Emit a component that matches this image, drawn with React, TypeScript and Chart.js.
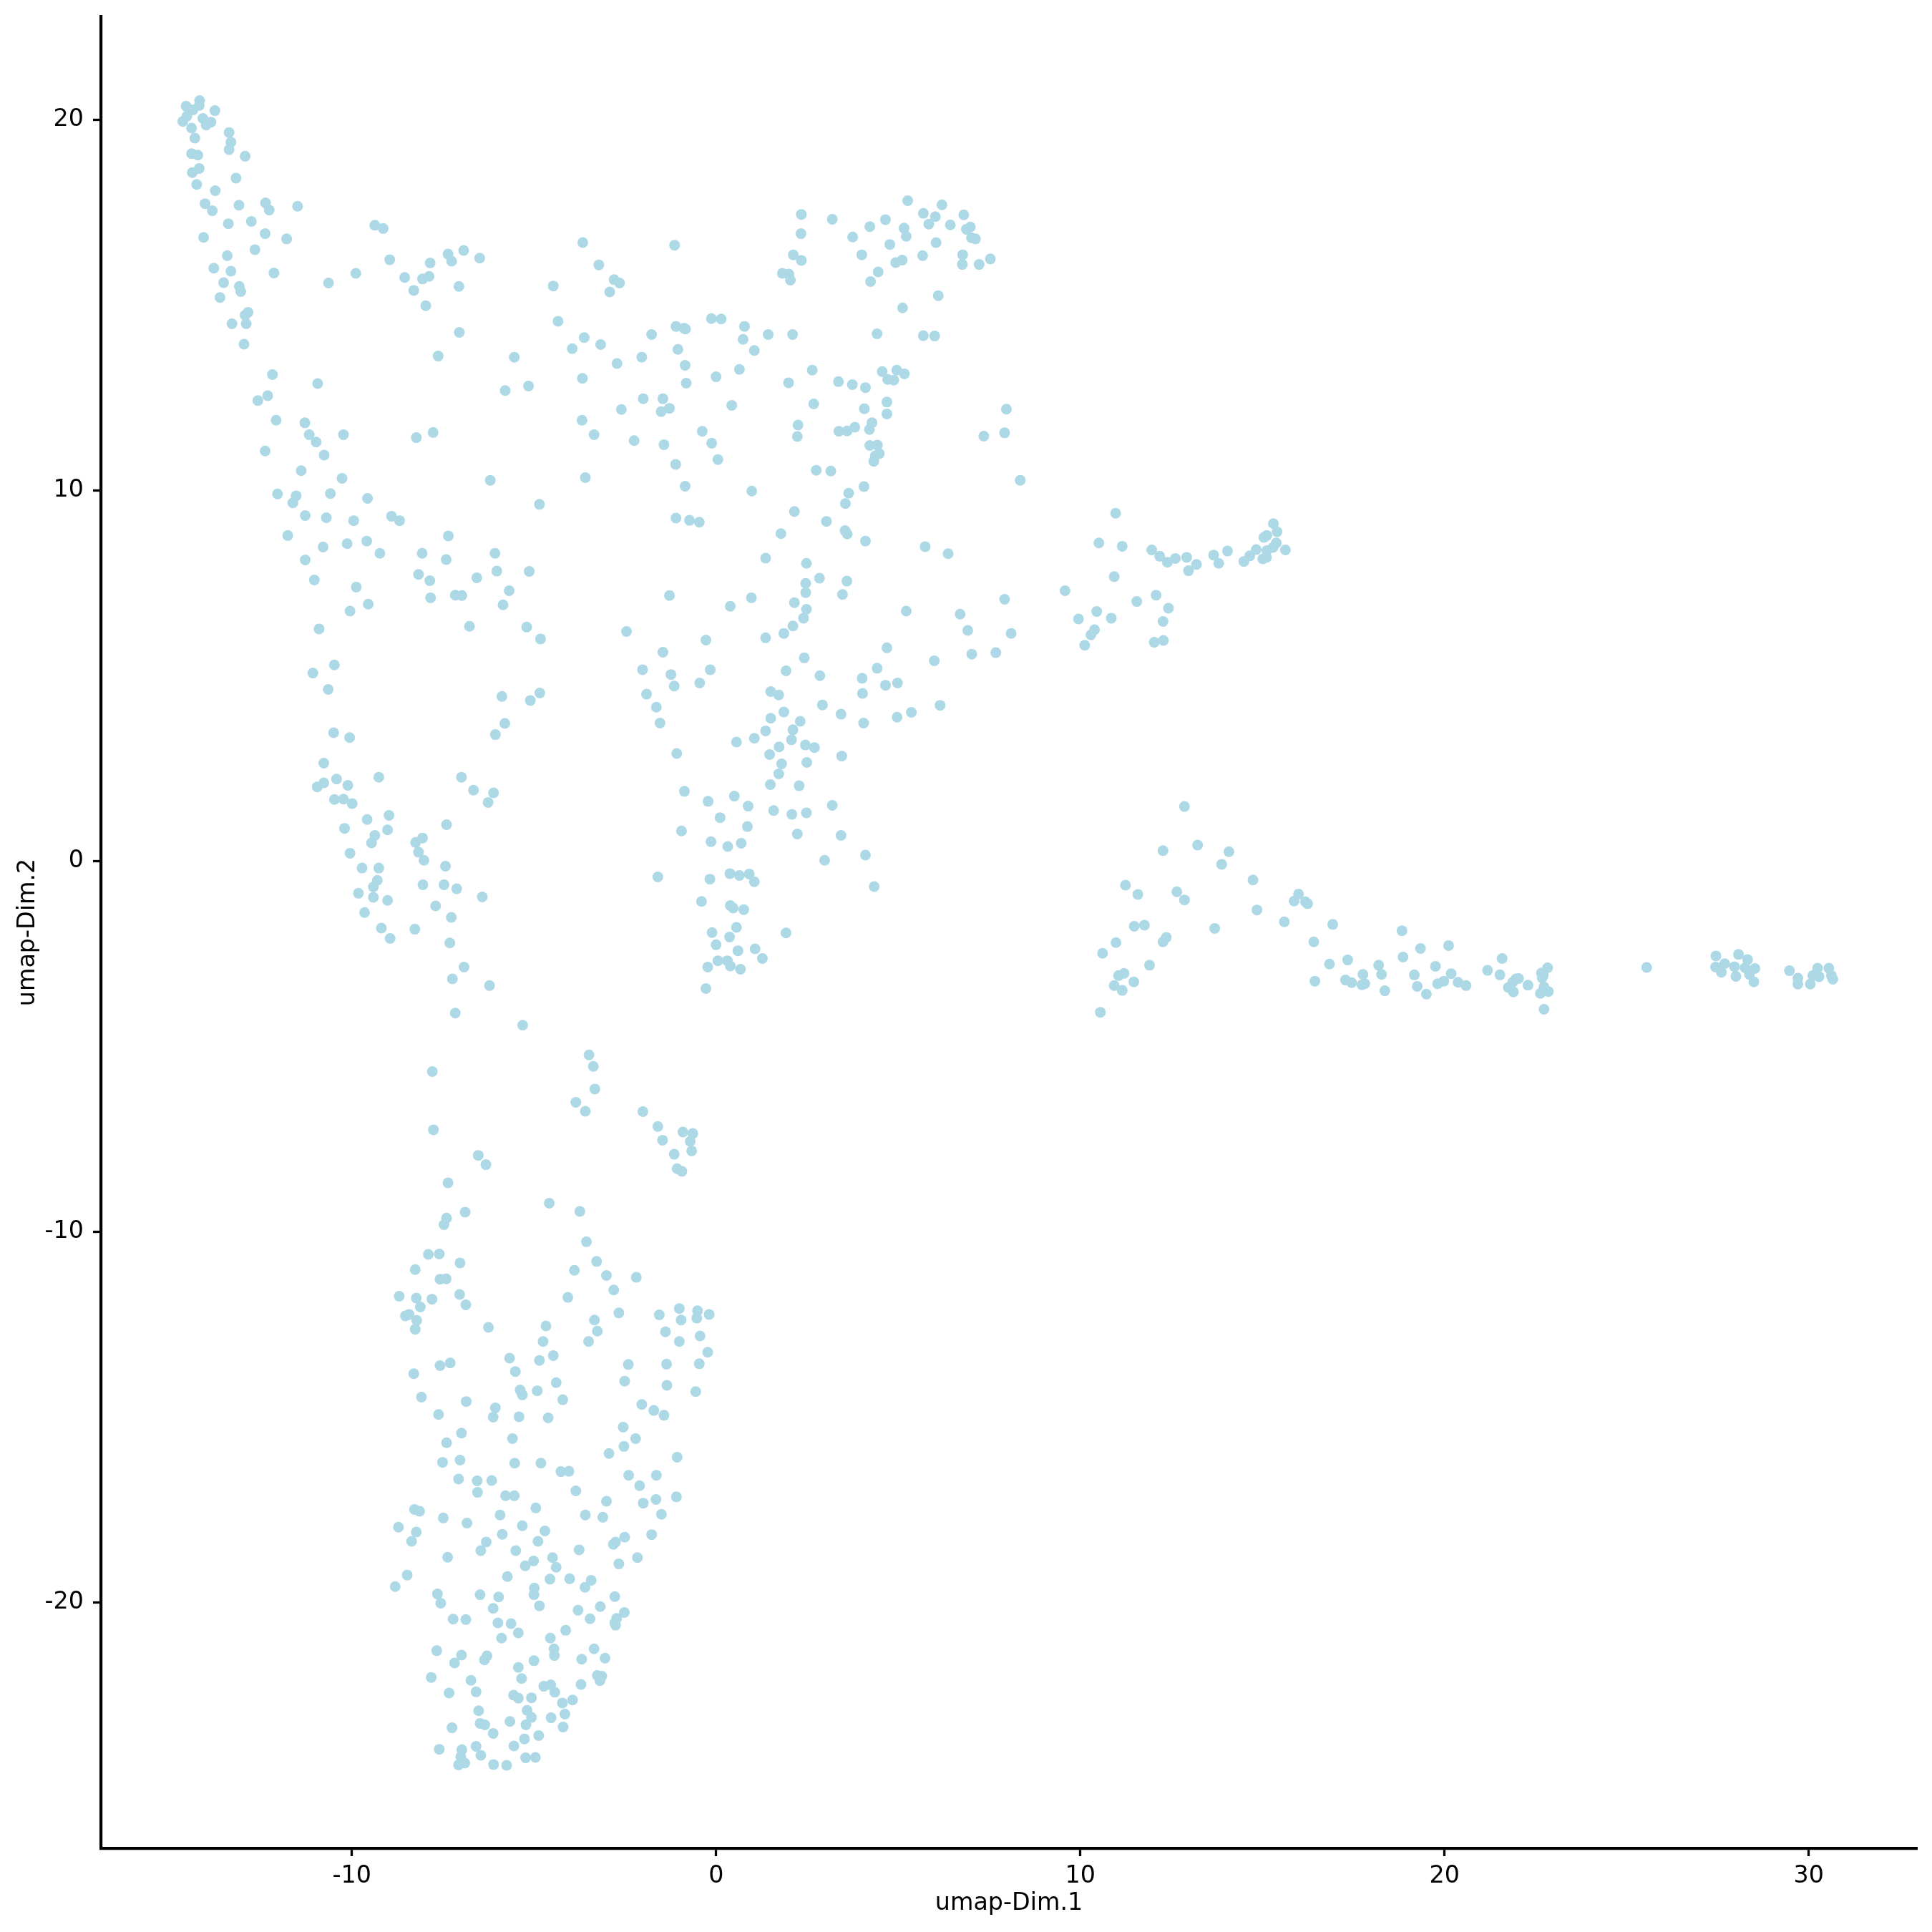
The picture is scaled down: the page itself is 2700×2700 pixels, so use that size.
import React, { useEffect, useRef } from "react";
import { Chart, registerables } from "chart.js";

Chart.register(...registerables);

const xTickStep = 10;
const yTickStep = 10;
const xAxisLabel = "umap-Dim.1";
const yAxisLabel = "umap-Dim.2";
const pointColor = "#ADD8E6";

const topLeftCells: number[][] = [
[-14.18,20.51],[-14.55,20.36],[-14.19,20.38],[-14.36,20.26],[-13.76,20.24],[-14.53,20.09],[-14.64,19.95],[-14.09,20.03],[-13.87,19.93],[-14.0,19.85],
[-14.4,19.77],[-13.37,19.65],[-14.31,19.5],[-13.32,19.39],[-13.37,19.19],[-14.4,19.08],[-14.23,19.04],[-12.93,19.01],[-14.19,18.68],[-14.38,18.57],
[-13.18,18.42],[-14.26,18.25],[-13.75,18.08],[-14.03,17.73],[-13.1,17.69],[-12.37,17.75],[-12.27,17.56],[-13.83,17.54],[-11.49,17.66],[-12.76,17.25],
[-13.39,17.19],[-12.38,16.92],[-14.07,16.82],[-11.79,16.78],[-12.66,16.49],[-13.42,16.33],[-13.79,15.99],[-13.32,15.91],[-12.14,15.86],[-13.52,15.6],
[-10.64,15.59],[-9.89,15.85],[-13.09,15.5],[-13.05,15.36],[-13.62,15.2],[-12.85,14.8],[-12.93,14.72],[-13.29,14.49],[-12.9,14.49],[-12.96,13.94],
[-12.18,13.12],[-12.31,12.55],[-12.58,12.42],[-12.08,11.89],[-12.38,11.06],[-12.04,9.9],
];

const upperLeftCells: number[][] = [
[-9.37,17.15],[-9.14,17.06],[-8.96,16.22],[-8.55,15.74],[-8.3,15.39],[-8.06,15.7],[-7.88,15.77],[-7.85,16.13],[-7.97,14.98],[-7.36,16.37],
[-7.26,16.18],[-6.93,16.47],[-6.49,16.26],[-7.06,15.5],[-7.05,14.26],[-7.63,13.62],[-4.47,15.51],[-4.34,14.56],[-3.66,16.68],[-3.22,16.08],
[-2.8,15.68],[-2.65,15.59],[-2.92,15.35],[-1.14,16.61],[1.82,15.85],[-1.1,14.42],[-0.88,14.37],[-0.84,14.35],[-1.77,14.2],[-0.13,14.63],
[0.14,14.62],[0.78,14.42],[0.74,14.07],[1.43,14.2],[1.05,13.77],[-1.05,13.8],[-0.85,13.37],[-2.04,13.59],[-2.72,13.42],[-3.62,14.12],
[-3.17,13.93],[-3.95,13.82],[-3.67,13.02],[-0.82,12.89],[0.0,13.06],[0.64,13.26],[-10.94,12.88],[-5.54,13.59],[-5.79,12.69],[-5.15,12.81],
[-2.0,12.47],[-1.46,12.47],[-1.28,12.21],[-1.51,12.12],[-2.6,12.18],[0.43,12.29],[-3.68,11.89],[-3.35,11.5],[-2.25,11.34],[-1.43,11.23],
[-0.38,11.59],[-0.12,11.27],[0.05,10.83],[-1.11,10.7],[-0.85,10.11],[0.98,9.98],[-3.59,10.34],[-6.2,10.27],[-4.85,9.62],[-11.29,11.82],
[-11.17,11.5],[-10.98,11.3],[-10.76,10.95],[-10.23,11.5],[-8.23,11.42],[-7.77,11.56],[-11.39,10.53],[-10.27,10.32],[-10.59,9.91],[-11.53,9.85],
[-11.62,9.66],[-9.57,9.78],[-11.28,9.32],[-10.7,9.26],[-9.95,9.18],[-8.91,9.3],[-8.69,9.18],[-11.76,8.78],[-10.79,8.47],[-10.13,8.56],
[-9.59,8.63],[-9.23,8.3],[-11.28,8.12],[-11.03,7.58],[-9.88,7.39],[-10.05,6.74],[-9.55,6.93],[-10.9,6.26],[-10.48,5.29],[-11.07,5.07],
[-7.35,8.77],[-8.07,8.3],[-7.41,8.13],[-8.17,7.73],[-7.86,7.56],[-7.84,7.1],[-7.16,7.17],[-6.98,7.16],[-6.57,7.64],[-6.07,8.3],
[-6.02,7.82],[-5.13,7.81],[-5.68,7.29],[-5.85,6.91],[-6.77,6.33],[-5.2,6.31],[-4.82,5.99],[-1.1,9.25],[-0.73,9.19],[-0.46,9.14],
[1.78,8.83],[1.36,8.17],[-1.28,7.16],[0.97,7.1],[0.39,6.87],[-2.46,6.19],[-0.28,5.96],[1.36,6.02],[1.86,6.14],[-1.46,5.63],
[-2.02,5.16],[-1.24,5.03],[-0.16,5.16],[-0.45,4.8],[-1.15,4.72],[1.92,5.13],
];

const upperMiddleCells: number[][] = [
[5.26,17.81],[6.2,17.7],[2.34,17.44],[3.19,17.31],[5.69,17.47],[6.02,17.38],[6.8,17.43],[4.65,17.3],[4.22,17.11],[5.84,17.18],
[5.16,17.07],[6.43,17.16],[6.98,17.1],[6.87,17.04],[2.33,16.92],[3.75,16.83],[5.22,16.85],[7.01,16.81],[7.12,16.78],[4.77,16.63],
[6.04,16.68],[2.12,16.35],[2.34,16.2],[4.0,16.35],[5.67,16.33],[6.77,16.35],[7.53,16.24],[6.76,16.09],[7.22,16.09],[4.93,16.14],
[5.11,16.21],[4.45,15.89],[4.24,15.63],[2.0,15.83],[2.04,15.67],[6.1,15.25],[5.12,14.92],[2.1,14.2],[4.42,14.22],[5.69,14.17],
[6.0,14.16],[2.64,13.24],[1.99,12.9],[3.36,12.93],[3.74,12.85],[4.1,12.77],[4.56,13.2],[4.96,13.24],[5.17,13.14],[4.71,12.99],
[4.88,12.97],[2.68,12.33],[4.07,12.2],[4.69,12.38],[4.69,12.06],[7.97,12.19],[2.25,11.76],[2.23,11.45],[3.37,11.59],[3.6,11.6],
[3.81,11.7],[4.28,11.82],[4.21,11.64],[7.92,11.55],[7.35,11.46],[4.22,11.21],[4.43,11.22],[4.48,10.99],[4.37,10.93],[4.33,10.78],
[2.75,10.54],[3.15,10.52],[8.35,10.27],[4.06,10.1],[3.64,9.92],[3.55,9.64],[2.15,9.43],[3.03,9.16],[3.54,8.91],[3.6,8.82],
[4.1,8.63],[5.74,8.48],[6.37,8.29],[2.48,8.03],[2.84,7.63],[3.59,7.55],[2.46,7.49],[2.46,7.24],[3.47,7.19],[2.15,6.97],
[2.48,6.79],[2.4,6.55],[2.11,6.34],[7.92,7.06],[5.22,6.74],[6.7,6.66],[6.91,6.22],[8.1,6.14],[4.69,5.75],[7.02,5.58],
[7.68,5.62],[5.99,5.4],[2.42,5.48],[2.85,5.0],[4.42,5.2],[4.01,4.93],[4.65,4.74],[4.98,4.8],
];

const rightUpperCells: number[][] = [
[10.97,9.38],[10.51,8.58],[11.15,8.49],[11.96,8.39],[12.18,8.22],[12.61,8.16],[12.39,8.06],[12.92,8.19],[13.19,8.0],[12.97,7.83],
[13.66,8.25],[14.04,8.36],[13.8,8.03],[14.83,8.4],[14.65,8.23],[14.49,8.08],[15.3,9.1],[15.4,8.88],[15.12,8.78],[15.04,8.73],
[15.38,8.58],[15.29,8.46],[15.12,8.37],[15.63,8.39],[15.11,8.19],[15.01,8.15],[10.93,7.67],[9.58,7.29],[11.55,7.0],[12.08,7.17],
[12.42,6.82],[12.27,6.46],[10.45,6.73],[9.95,6.53],[10.85,6.55],[10.39,6.24],[10.29,6.1],[10.12,5.82],[12.03,5.9],[12.28,5.95],
];

const middleCells: number[][] = [
[-10.65,4.63],[-5.88,4.44],[-5.1,4.33],[-4.84,4.53],[-1.91,4.5],[-1.64,4.15],[-1.54,3.72],[1.5,4.57],[1.72,4.48],[1.86,4.02],
[1.5,3.85],[1.36,3.51],[1.05,3.31],[0.56,3.21],[-5.8,3.71],[-6.06,3.41],[-10.5,3.46],[-10.06,3.33],[-1.08,2.9],[1.73,3.08],
[1.47,2.87],[1.8,2.62],[1.72,2.35],[1.49,2.06],[-10.77,2.64],[-10.42,2.21],[-10.77,2.11],[-10.95,2.0],[-10.11,2.04],[-9.26,2.26],
[-6.99,2.26],[-6.66,1.91],[-6.11,1.84],[-6.26,1.58],[-10.48,1.66],[-10.23,1.67],[-9.99,1.55],[-0.87,1.88],[-0.22,1.61],[0.5,1.75],
[0.88,1.48],[1.58,1.36],[0.11,1.17],[0.86,0.93],[-9.58,1.12],[-8.98,1.23],[-10.2,0.88],[-9.02,0.84],[-9.37,0.69],[-9.46,0.49],
[-7.4,0.98],[-8.06,0.62],[-8.25,0.5],[-8.17,0.24],[-8.02,0.02],[-0.95,0.81],[-0.14,0.52],[0.32,0.39],[0.69,0.48],[-10.05,0.21],
[-9.72,-0.19],[-9.26,-0.19],[-9.3,-0.52],[-9.41,-0.7],[-9.82,-0.87],[-9.41,-0.98],[-9.02,-1.06],[-9.65,-1.39],[-9.19,-1.81],[-8.95,-2.09],
[-7.43,-0.14],[-8.05,-0.64],[-7.47,-0.64],[-7.12,-0.75],[-6.42,-0.97],[-7.7,-1.21],[-7.27,-1.52],[-8.27,-1.84],[-7.31,-2.21],[-6.92,-2.86],
[-7.24,-3.18],[-6.22,-3.36],[-7.16,-4.1],[-5.31,-4.43],[-3.49,-5.23],[-3.37,-5.54],[-3.33,-6.15],[-3.85,-6.51],[-3.59,-6.75],[-7.79,-5.68],
[-7.76,-7.25],[-6.53,-7.94],[-6.32,-8.19],[-7.36,-8.68],[-2.01,-6.76],[-1.6,-7.16],[-1.47,-7.53],[-0.91,-7.31],[-0.64,-7.35],[-0.71,-7.56],
[-0.67,-7.82],[-1.15,-7.91],[-1.07,-8.3],[-0.94,-8.37],[-1.6,-0.43],[-0.17,-0.49],[0.38,-0.34],[0.64,-0.39],[0.91,-0.35],[1.05,-0.56],
[-0.4,-1.09],[0.39,-1.2],[0.47,-1.27],[0.76,-1.31],[-0.11,-1.93],[0.56,-1.79],[0.37,-2.05],[0.0,-2.26],[1.92,-1.94],[0.6,-2.42],
[1.07,-2.37],[1.27,-2.63],[0.05,-2.69],[0.31,-2.69],[0.39,-2.83],[0.67,-2.92],[-0.23,-2.86],[-0.28,-3.44],[4.02,4.52],[2.92,4.21],
[3.43,3.96],[4.05,3.72],[4.97,3.88],[5.36,4.01],[6.15,4.2],[2.31,3.77],[2.11,3.54],[2.07,3.27],[2.45,3.13],[2.7,3.06],
[3.45,2.83],[2.49,2.66],[2.28,2.03],[3.19,1.5],[2.08,1.26],[2.48,1.3],[2.23,0.73],[3.43,0.69],[4.1,0.16],[2.98,0.02],
[4.34,-0.69],
];

const rightLowerCells: number[][] = [
[12.86,1.47],[12.27,0.28],[13.22,0.43],[14.08,0.25],[13.88,-0.09],[14.74,-0.51],[11.24,-0.65],[11.58,-0.9],[12.65,-0.83],[12.86,-1.05],
[15.99,-0.89],[15.87,-1.08],[16.18,-1.1],[16.24,-1.15],[14.85,-1.32],[15.6,-1.64],[16.93,-1.71],[11.48,-1.76],[11.76,-1.73],[13.69,-1.82],
[12.36,-2.06],[12.27,-2.18],[10.98,-2.2],[10.61,-2.49],[16.41,-2.18],[18.83,-1.88],[19.34,-2.36],[18.86,-2.59],[17.34,-2.67],[16.84,-2.78],
[18.19,-2.81],[17.76,-3.06],[18.27,-3.06],[11.9,-2.81],[11.2,-3.03],[11.05,-3.09],[10.93,-3.36],[11.47,-3.26],[11.15,-3.49],[10.55,-4.08],
[16.44,-3.24],[17.28,-3.21],[17.45,-3.28],[17.81,-3.31],[17.73,-3.34],[18.36,-3.5],[19.17,-3.07],[19.25,-3.38],[19.5,-3.59],[19.75,-2.84],
[20.11,-2.28],[20.18,-3.04],[19.98,-3.24],[19.81,-3.31],[20.37,-3.27],[20.59,-3.36],[21.58,-2.63],[21.18,-2.95],[21.52,-3.07],[22.03,-3.17],
[21.96,-3.18],[21.87,-3.27],[22.29,-3.35],[21.75,-3.41],[21.89,-3.53],[22.83,-2.88],[22.66,-3.02],[22.71,-3.08],[22.68,-3.15],[22.73,-3.4],
[22.85,-3.52],[22.63,-3.57],[22.73,-4.0],[25.55,-2.87],[27.45,-2.56],[28.07,-2.52],[28.32,-2.66],[27.69,-2.77],[27.44,-2.86],[27.58,-2.88],
[27.96,-2.85],[28.25,-2.88],[28.52,-2.9],[27.6,-3.0],[28.37,-3.06],[28.0,-3.11],[28.49,-3.26],[29.47,-2.96],[29.7,-3.16],[29.7,-3.32],
[30.04,-3.32],[30.11,-3.09],[30.24,-2.89],[30.28,-3.12],[30.55,-2.89],[30.62,-3.09],[30.66,-3.19],
];

const lowerCells: number[][] = [
[-4.58,-9.23],[-3.74,-9.45],[-6.89,-9.47],[-7.4,-9.63],[-7.47,-9.81],[-3.56,-10.27],[-7.9,-10.61],[-7.6,-10.6],[-7.03,-10.84],[-3.28,-10.8],
[-8.26,-11.02],[-3.89,-11.04],[-3.01,-11.18],[-2.19,-11.23],[-7.58,-11.28],[-7.41,-11.27],[-2.81,-11.57],[-8.7,-11.74],[-8.23,-11.79],[-7.8,-11.82],
[-7.04,-11.69],[-6.87,-11.97],[-4.07,-11.77],[-8.12,-12.03],[-8.43,-12.23],[-8.53,-12.27],[-8.22,-12.39],[-8.26,-12.63],[-6.25,-12.58],[-2.67,-12.19],
[-3.34,-12.38],[-3.26,-12.68],[-3.5,-12.96],[-4.67,-12.54],[-4.75,-12.96],[-1.56,-12.24],[-1.01,-12.07],[-0.51,-12.13],[-0.19,-12.23],[-0.96,-12.38],
[-0.53,-12.33],[-1.39,-12.7],[-0.44,-12.81],[-1.01,-12.96],[-0.23,-13.25],[-4.47,-13.34],[-4.85,-13.47],[-5.67,-13.41],[-5.51,-13.77],[-7.58,-13.61],
[-7.3,-13.54],[-8.3,-13.83],[-2.41,-13.58],[-1.36,-13.57],[-0.46,-13.56],[-2.51,-14.03],[-1.35,-14.14],[-0.56,-14.31],[-5.38,-14.27],[-5.32,-14.4],
[-4.91,-14.29],[-4.39,-14.07],[-4.21,-14.53],[-8.09,-14.46],[-6.86,-14.58],[-2.04,-14.66],[-1.71,-14.82],[-1.43,-14.95],[-7.62,-14.93],[-6.06,-14.75],
[-6.12,-15.0],[-5.41,-14.99],[-4.61,-15.02],[-2.55,-15.27],[-2.21,-15.58],[-2.53,-15.79],[-2.94,-15.98],[-6.99,-15.43],[-7.4,-15.69],[-5.59,-15.58],
[-7.51,-16.22],[-7.03,-16.16],[-5.53,-16.24],[-4.81,-16.24],[-1.07,-16.08],
];

const bottomCells: number[][] = [
[-4.26,-16.47],[-4.04,-16.46],[-2.4,-16.57],[-1.64,-16.57],[-2.1,-16.85],[-3.85,-16.99],[-7.07,-16.67],[-6.56,-16.72],[-6.16,-16.71],[-6.55,-17.03],
[-5.78,-17.12],[-5.54,-17.12],[-1.65,-17.22],[-2.0,-17.32],[-1.09,-17.15],[-3.01,-17.27],[-4.95,-17.45],[-8.28,-17.49],[-8.14,-17.54],[-5.93,-17.64],
[-3.59,-17.64],[-3.11,-17.7],[-1.5,-17.62],[-7.49,-17.72],[-6.84,-17.86],[-8.72,-17.97],[-8.23,-18.1],[-8.36,-18.35],[-5.32,-17.93],[-5.87,-18.16],
[-4.7,-18.07],[-4.89,-18.35],[-6.31,-18.37],[-6.46,-18.6],[-5.5,-18.6],[-2.51,-18.24],[-2.76,-18.37],[-2.82,-18.43],[-1.77,-18.17],[-3.76,-18.58],
[-2.16,-18.79],[-2.67,-18.96],[-7.37,-18.78],[-4.49,-18.79],[-5.01,-18.88],[-5.24,-19.01],[-4.39,-19.05],[-5.73,-19.3],[-4.56,-19.37],[-4.02,-19.36],
[-3.43,-19.4],[-3.6,-19.59],[-8.48,-19.26],[-8.81,-19.57],[-4.99,-19.61],[-5.0,-19.79],[-7.65,-19.77],[-7.56,-20.02],[-6.48,-19.79],[-5.97,-19.85],
[-6.12,-20.16],[-4.85,-20.09],[-2.78,-19.84],[-3.18,-20.11],[-2.52,-20.27],[-3.79,-20.21],[-3.46,-20.44],[-2.73,-20.43],[-2.78,-20.55],[-2.76,-20.61],
[-7.22,-20.45],[-6.87,-20.46],[-5.99,-20.55],[-5.63,-20.57],[-5.43,-20.82],[-5.89,-20.96],[-4.13,-20.75],[-4.55,-20.96],[-4.45,-21.25],[-4.44,-21.43],
[-3.35,-21.25],[-3.05,-21.5],[-3.69,-21.53],[-7.67,-21.3],[-6.99,-21.42],[-7.18,-21.63],[-6.29,-21.44],[-6.36,-21.55],[-5.0,-21.57],[-5.43,-21.75],
[-5.34,-22.05],[-3.26,-21.97],[-3.14,-21.99],[-3.19,-22.11],[-3.71,-22.21],[-7.82,-22.02],[-6.73,-22.1],[-7.33,-22.44],[-6.59,-22.41],[-4.73,-22.26],
[-4.54,-22.22],[-4.43,-22.42],[-5.56,-22.5],[-5.43,-22.58],[-5.07,-22.57],[-3.94,-22.63],[-4.22,-22.71],[-6.52,-22.92],[-5.19,-22.91],[-5.07,-23.1],
[-4.15,-23.01],[-4.53,-23.11],[-5.66,-23.21],[-5.22,-23.3],[-4.2,-23.36],[-6.48,-23.26],[-6.35,-23.3],[-7.25,-23.38],[-6.12,-23.53],[-4.87,-23.59],
[-5.26,-23.68],[-5.55,-23.87],[-6.59,-23.88],[-7.6,-23.96],[-6.98,-23.97],[-6.46,-24.12],[-7.01,-24.16],[-6.9,-24.33],[-7.07,-24.38],[-6.11,-24.37],
[-5.75,-24.39],[-5.23,-24.19],[-4.96,-24.18],
];

const allCells = [
  ...topLeftCells, ...upperLeftCells, ...upperMiddleCells, ...rightUpperCells,
  ...middleCells, ...rightLowerCells, ...lowerCells, ...bottomCells,
];

const FONT = "'DejaVu Sans'";
const FONT_SIZE = 33.33;

export default function App() {
  const ref = useRef<HTMLCanvasElement>(null);
  useEffect(() => {
    document.body.style.margin = "0";
    const chart = new Chart(ref.current!, {
      type: "scatter",
      data: {
        datasets: [{
          label: "cells",
          data: allCells.map(([x, y]) => ({ x, y })),
          backgroundColor: pointColor,
          borderWidth: 0,
          pointRadius: 7.5,
          pointHoverRadius: 7.5,
        }],
      },
      options: {
        animation: false,
        responsive: false,
        devicePixelRatio: 1,
        layout: { padding: { top: 23, right: 21, left: 0, bottom: 0 } },
        plugins: { legend: { display: false }, tooltip: { enabled: false } },
        scales: {
          x: {
            type: "linear",
            min: -16.89,
            max: 32.97,
            afterFit: (s: any) => { s.height = 117; s.paddingLeft = 0; s.paddingRight = 0; },
            grid: { drawOnChartArea: false, drawTicks: true, tickLength: 11, tickWidth: 3.3, tickColor: "#000" },
            border: { display: true, color: "#000", width: 4.2 },
            ticks: { stepSize: xTickStep, includeBounds: false, color: "#000", font: { family: FONT, size: FONT_SIZE }, padding: 8, maxRotation: 0 },
            title: { display: true, text: xAxisLabel, color: "#000", font: { family: FONT, size: FONT_SIZE }, padding: { top: 0, bottom: 20 } },
          },
          y: {
            type: "linear",
            min: -26.63,
            max: 22.78,
            afterFit: (s: any) => { s.width = 141; s.paddingTop = 0; s.paddingBottom = 0; },
            grid: { drawOnChartArea: false, drawTicks: true, tickLength: 11, tickWidth: 3.3, tickColor: "#000" },
            border: { display: true, color: "#000", width: 4.2 },
            ticks: { stepSize: yTickStep, includeBounds: false, color: "#000", font: { family: FONT, size: FONT_SIZE }, padding: 13 },
            title: { display: true, text: yAxisLabel, color: "#000", font: { family: FONT, size: FONT_SIZE }, padding: { top: 19, bottom: 0 } },
          },
        },
      },
    } as any);
    return () => chart.destroy();
  }, []);
  return <canvas ref={ref} width={2700} height={2700} style={{ display: "block", width: 2700, height: 2700 }} />;
}
